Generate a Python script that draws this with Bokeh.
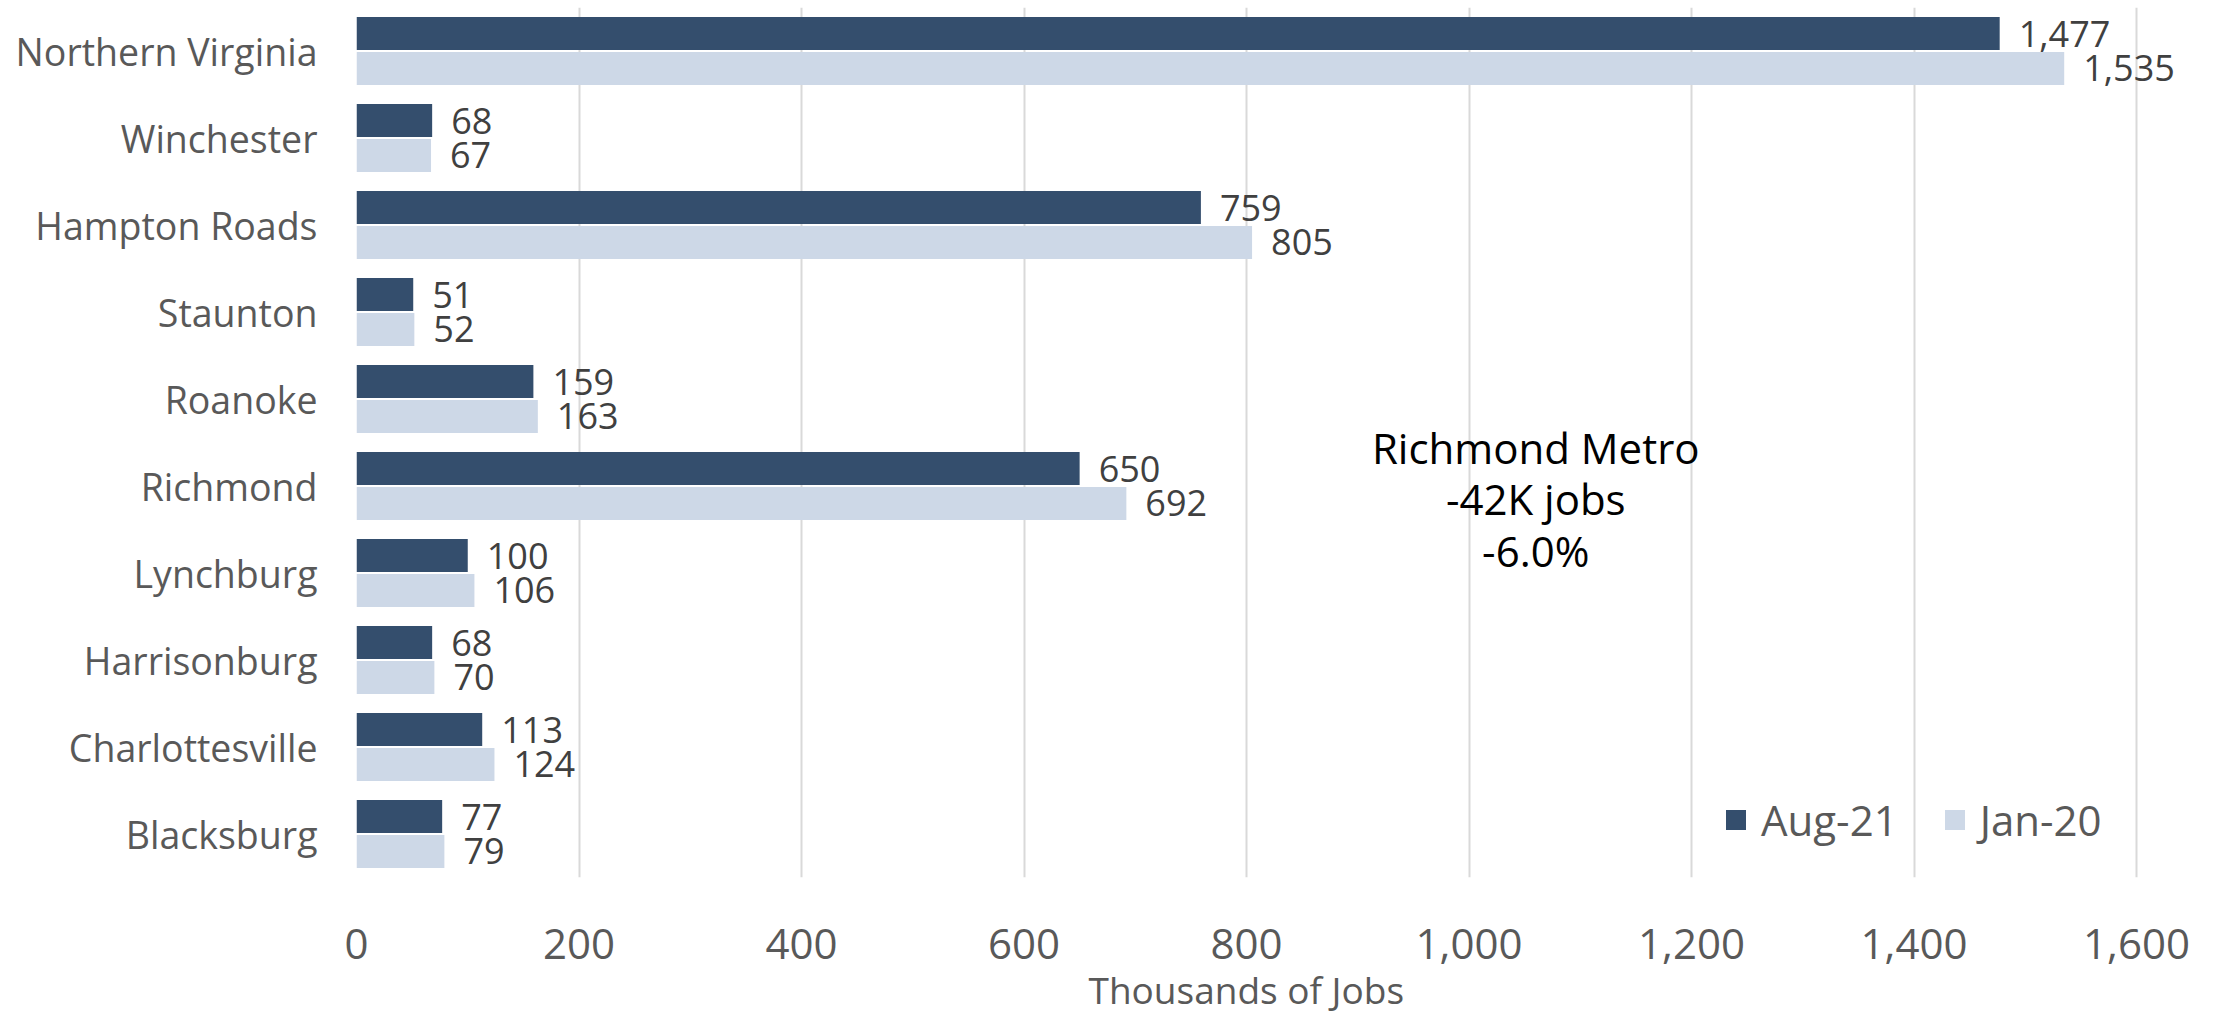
from bokeh.plotting import figure
from bokeh.models import (ColumnDataSource, FactorRange, Range1d, FixedTicker,
                          NumeralTickFormatter, Legend, LegendItem, Title)
from bokeh.transform import dodge
from bokeh.core.properties import value
from bokeh.embed import file_html
from bokeh.resources import INLINE

# ---------------- data ----------------
regions = ["Northern Virginia", "Winchester", "Hampton Roads", "Staunton", "Roanoke",
           "Richmond", "Lynchburg", "Harrisonburg", "Charlottesville", "Blacksburg"]
aug21 = [1477, 68, 759, 51, 159, 650, 100, 68, 113, 77]
jan20 = [1535, 67, 805, 52, 163, 692, 106, 70, 124, 79]
series_names = ["Aug-21", "Jan-20"]
x_ticks = [0, 200, 400, 600, 800, 1000, 1200, 1400, 1600]
x_title = "Thousands of Jobs"
annotation_lines = ["Richmond Metro", "-42K jobs", "-6.0%"]
annotation_x = [1060]
annotation_region = ["Richmond"]

# ---------------- style ----------------
DARK = "#344E6D"
LIGHT = "#CDD8E7"
FONT = "Open Sans"
GREY = "#595959"

src = ColumnDataSource(dict(
    region=regions,
    aug21=aug21,
    jan20=jan20,
    aug21_label=[f"{v:,}" for v in aug21],
    jan20_label=[f"{v:,}" for v in jan20],
))

p = figure(width=2216, height=1014,
           y_range=FactorRange(factors=list(reversed(regions)), range_padding=0),
           x_range=Range1d(0, 1662.9),
           output_backend="svg", toolbar_location=None,
           min_border_left=356, min_border_right=10,
           min_border_top=7, min_border_bottom=137)

OFF = 0.201
BH = 0.38
r1 = p.hbar(y=dodge("region", OFF, range=p.y_range), left=0, right="aug21",
            height=BH, source=src, fill_color=DARK, line_color=None)
r2 = p.hbar(y=dodge("region", -OFF, range=p.y_range), left=0, right="jan20",
            height=BH, source=src, fill_color=LIGHT, line_color=None)

p.text(x="aug21", y=dodge("region", OFF, range=p.y_range), text="aug21_label",
       source=src, x_offset=19, text_baseline="middle", text_align="left",
       text_font=value(FONT), text_font_size="36px", text_color="#404040")
p.text(x="jan20", y=dodge("region", -OFF, range=p.y_range), text="jan20_label",
       source=src, x_offset=19, text_baseline="middle", text_align="left",
       text_font=value(FONT), text_font_size="36px", text_color="#404040")

p.text(x=annotation_x, y=annotation_region, text=["\n".join(annotation_lines)],
       text_align="center", text_baseline="middle", y_offset=13,
       text_font=value(FONT), text_font_size="42px", text_color="#000000",
       text_line_height=0.9)

# axes
xa = p.xaxis[0]
xa.ticker = FixedTicker(ticks=x_ticks)
xa.formatter = NumeralTickFormatter(format="0,0")
xa.major_label_text_font = FONT
xa.major_label_text_font_size = "42px"
xa.major_label_text_color = GREY
xa.major_tick_line_color = None
xa.minor_tick_line_color = None
xa.axis_line_color = None
xa.major_label_standoff = 45

# x-axis title, placed under the middle of the 0-1,600 scale
p.add_layout(Title(text=x_title, align="left", offset=732, standoff=0,
                   text_font=FONT, text_font_size="37px", text_font_style="normal",
                   text_color=GREY), "below")

ya = p.yaxis[0]
ya.major_label_text_font = FONT
ya.major_label_text_font_size = "37.5px"
ya.major_label_text_color = GREY
ya.major_tick_line_color = None
ya.minor_tick_line_color = None
ya.axis_line_color = None
ya.major_label_standoff = 33

p.xgrid.grid_line_color = "#D9D9D9"
p.xgrid.grid_line_width = 2
p.ygrid.grid_line_color = None
p.outline_line_color = None
p.background_fill_color = "white"

legend = Legend(items=[LegendItem(label=series_names[0], renderers=[r1]),
                       LegendItem(label=series_names[1], renderers=[r2])],
                orientation="horizontal", location=(1367, 29),
                glyph_width=25, glyph_height=25, label_standoff=13, spacing=44,
                padding=0, margin=0, border_line_color=None,
                background_fill_alpha=0,
                label_text_font=FONT, label_text_font_size="42px",
                label_text_color=GREY)
p.add_layout(legend)

open("out.html", "w").write(file_html(p, INLINE))
